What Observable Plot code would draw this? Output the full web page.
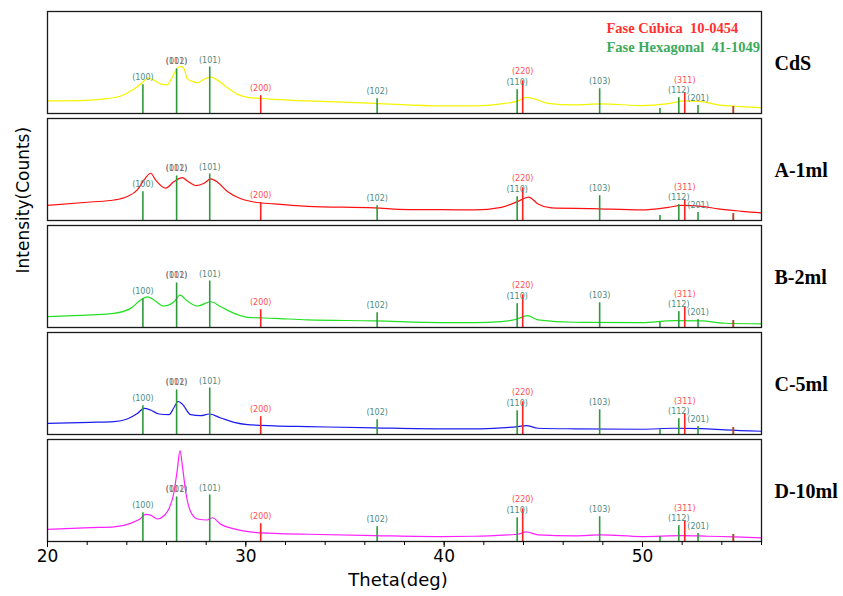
<!DOCTYPE html>
<html><head><meta charset="utf-8">
<script src="https://cdn.jsdelivr.net/npm/d3@7"></script>
<script src="https://cdn.jsdelivr.net/npm/@observablehq/plot@0.6"></script>
<style>body{margin:0;background:#fff}</style>
</head><body><div id="chart"></div>
<script>
// ---- sample names and colours ----
const samples = ["CdS", "A-1ml", "B-2ml", "C-5ml", "D-10ml"];
const sampleColors = ["#f4f400", "#ff1010", "#22e022", "#1c1cf0", "#ff20ff"];

// ---- spectra (2θ in degrees, relative intensity) ----
const cdsTheta  = [20, 22, 23, 23.69, 24.36, 24.83, 25.03, 25.2, 25.37, 25.74, 26.05, 26.13, 26.38, 26.52, 26.72, 26.89, 27.05, 27.39, 27.56, 27.9, 28.23, 28.57, 29.07, 29.58, 30.08, 30.76, 31.43, 33.11, 36.48, 39.85, 41.53, 42.88, 43.72, 44.14, 44.56, 45.24, 46.58, 47.93, 49.95, 51.3, 52.14, 52.98, 53.82, 55.0, 56];
const cdsCounts = [12.7, 13.3, 15, 17.7, 24.7, 32, 36, 35, 33.7, 29.7, 29, 31, 40, 45, 47.5, 45, 35, 32, 31, 34.7, 36.7, 33.7, 26, 19.3, 16.3, 15.3, 14.3, 12.7, 10.3, 7.7, 7.7, 9.7, 12.7, 16.3, 14.7, 10.3, 8.7, 9.7, 8, 10, 12.7, 12, 8.7, 7, 6];

const aTheta  = [20, 22.17, 23.35, 24.02, 24.53, 24.87, 25.2, 25.45, 25.96, 26.38, 26.8, 27.05, 27.47, 27.9, 28.23, 28.57, 29.07, 29.75, 30.42, 31.43, 33.11, 36.48, 38.17, 39.85, 41.53, 42.88, 43.72, 44.26, 44.73, 45.41, 47.43, 49.95, 51.3, 51.97, 52.98, 53.82, 55.0, 56];
const aCounts = [15.3, 18.7, 20.7, 24.3, 31, 41, 47.7, 41, 32.7, 39.3, 43.3, 40, 35.3, 37.7, 42, 38.7, 29.3, 22, 18.7, 16.7, 14.3, 12.7, 11, 11, 10.7, 13.3, 19.3, 23.7, 16.7, 12.7, 12, 10.7, 13.3, 15.3, 14.3, 11.7, 9.3, 7.7];

const bTheta  = [20, 22.17, 23.35, 24.19, 24.7, 25.03, 25.37, 25.87, 26.38, 26.68, 27.05, 27.56, 28.23, 28.74, 29.41, 30.08, 31.43, 33.11, 36.48, 39.85, 41.53, 42.88, 43.64, 44.19, 44.73, 46.58, 49.95, 51.63, 52.98, 54.16, 56];
const bCounts = [11, 12.7, 14.3, 19.3, 27.7, 31, 27.7, 21.7, 26, 32.7, 26.7, 21.7, 26, 21, 14.3, 10.3, 9.3, 7.7, 6.7, 5, 5, 6, 8.3, 12, 7.7, 5.3, 5, 7, 6.7, 4.3, 3.7];

const cTheta  = [20, 22.17, 23.35, 24.02, 24.53, 24.87, 25.2, 25.62, 26.13, 26.38, 26.58, 26.8, 27.22, 27.73, 28.15, 28.74, 29.41, 30.08, 31.43, 33.11, 36.48, 39.85, 41.53, 42.88, 43.72, 44.14, 44.73, 46.58, 49.95, 51.63, 52.98, 54.16, 56];
const cCounts = [11.3, 12.3, 13, 15.7, 21.3, 26.3, 24.7, 20.7, 20, 27.3, 33.3, 30.7, 20, 19, 20.7, 16.7, 12.3, 10, 8.7, 8, 6.7, 5.7, 5.7, 6.7, 8, 9, 6.3, 5.7, 5.3, 6.3, 6, 4.7, 3.3];

const dTheta  = [20, 22.17, 23.35, 24.19, 24.7, 24.95, 25.2, 25.54, 25.87, 26.13, 26.38, 26.55, 26.68, 26.8, 26.97, 27.22, 27.56, 28.06, 28.32, 28.74, 29.41, 30.42, 31.43, 33.11, 36.48, 39.85, 41.53, 43.22, 43.72, 44.14, 44.73, 46.58, 47.93, 49.95, 51.97, 53.32, 54.66, 56];
const dCounts = [12.3, 14, 14.7, 18.3, 23.3, 27.3, 26.7, 22.7, 26, 33.3, 50, 73.3, 91.7, 76.7, 50, 30, 22.7, 21.7, 24, 17.3, 12.7, 9.3, 8.3, 7.3, 6, 5, 5.3, 6.7, 7.3, 9.7, 6.7, 5.7, 6.7, 5, 6, 5.3, 4.7, 3.7];

// ---- reference patterns ----
const hexTheta  = [24.81, 26.51, 28.18, 36.62, 43.68, 47.84, 50.88, 51.83, 52.80, 54.58];
const hexHeight = [29, 45, 47, 15, 24, 25, 5, 16, 8, 7];
const hexLabel  = ["(100)", "(002)", "(101)", "(102)", "(110)", "(103)", "", "(112)", "(201)", ""];
const cubTheta  = [26.51, 30.75, 43.96, 52.13, 54.58];
const cubHeight = [45, 18, 33, 21, 7];
const cubLabel  = ["(111)", "(200)", "(220)", "(311)", ""];

// ---- axis ticks and texts ----
const xMajorTicks = [20, 30, 40, 50];
const xMinorTicks = [20, 22, 24, 26, 28, 30, 32, 34, 36, 38, 40, 42, 44, 46, 48, 50, 52, 54, 56];
const legendCubic = "Fase Cúbica\u00a0 10-0454";
const legendHex = "Fase Hexagonal\u00a0 41-1049";
const xTitle = "Theta(deg)";
const yTitle = "Intensity(Counts)";

// ---- build tables ----
const series = [[cdsTheta, cdsCounts], [aTheta, aCounts], [bTheta, bCounts], [cTheta, cCounts], [dTheta, dCounts]];
const spectra = series.flatMap(([t, c], i) => t.map((theta, j) => ({sample: samples[i], theta, counts: c[j]})));
const hex = hexTheta.map((theta, i) => ({theta, h: hexHeight[i], label: hexLabel[i]}));
const cub = cubTheta.map((theta, i) => ({theta, h: cubHeight[i], label: cubLabel[i]}));
const lift = {"(220)": 2, "(311)": 5.5};

const serif = "Liberation Serif, Times New Roman, serif";
const sans = "DejaVu Sans, sans-serif";

const chart = Plot.plot({
  width: 843, height: 596,
  marginLeft: 47, marginRight: 82, marginTop: 9, marginBottom: 52,
  style: {fontFamily: sans, color: "black", background: "white"},
  x: {domain: [20, 56]},
  y: {domain: [0, 103], axis: null},
  fy: {domain: samples, paddingInner: 0.046, paddingOuter: 0, axis: null},
  color: {domain: samples, range: sampleColors},
  marks: [
    Plot.lineY(spectra, {x: "theta", y: "counts", fy: "sample", stroke: "sample", strokeWidth: 1.2, curve: "monotone-x"}),
    Plot.ruleX(hex, {x: "theta", y1: 0, y2: "h", stroke: "#2e9a3c", strokeWidth: 1.6}),
    Plot.ruleX(cub, {filter: d => d.label !== "(111)", x: "theta", y1: 0, y2: "h", stroke: "#ff2020", strokeWidth: 1.6}),
    Plot.text(cub, {filter: d => d.label, x: "theta", y: d => d.h + (lift[d.label] || 0), text: "label", dy: -7, fontSize: 8, fill: "#ff5050"}),
    Plot.text(hex, {filter: d => d.label, x: "theta", y: "h", text: "label", dy: -7, fontSize: 8, fill: "#4d8c82"}),
    Plot.frame({stroke: "#1a1a1a", strokeWidth: 1.3}),
    Plot.text(samples, {fy: d => d, text: d => d, frameAnchor: "right", textAnchor: "start", dx: 13, dy: 1, fontSize: 20, fontWeight: "bold", fontFamily: serif, fill: "black"}),
    Plot.text([samples[0]], {fy: d => d, text: () => legendCubic, frameAnchor: "top-right", textAnchor: "start", dx: -155, dy: 11, fontSize: 14.5, fontWeight: "bold", fontFamily: serif, fill: "#ff3030"}),
    Plot.text([samples[0]], {fy: d => d, text: () => legendHex, frameAnchor: "top-right", textAnchor: "start", dx: -155, dy: 30, fontSize: 14.5, fontWeight: "bold", fontFamily: serif, fill: "#3caa5a"}),
    Plot.text([samples[2]], {fy: d => d, text: () => yTitle, frameAnchor: "left", rotate: -90, dx: -24, dy: -3, fontSize: 17, fill: "black"}),
    Plot.text([samples[4]], {fy: d => d, text: () => xTitle, frameAnchor: "bottom", dx: -6.5, dy: 44, fontSize: 18, fill: "black"}),
    Plot.axisX({ticks: xMinorTicks, tickSize: 4, tickFormat: () => "", label: null}),
    Plot.axisX({ticks: xMajorTicks, tickSize: 6, tickPadding: 2, fontSize: 17, label: null})
  ]
});
document.getElementById("chart").appendChild(chart);
</script>
</body></html>
